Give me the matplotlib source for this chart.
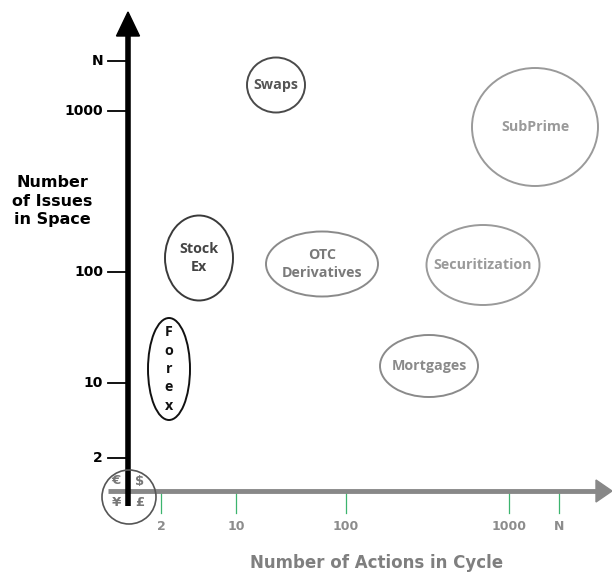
import matplotlib.pyplot as plt
from matplotlib.patches import Ellipse, Circle, FancyArrow

# ordinal ticks of the two axes (diagram units, y grows downwards)
x_labels = ["2", "10", "100", "1000", "N"]
x_pos = [161, 236, 346, 509, 559]
y_labels = ["N", "1000", "100", "10", "2"]
y_pos = [61, 111, 272, 383, 458]

# markets: centre x, centre y, width, height
names = ["Swaps", "SubPrime", "Stock\nEx", "OTC\nDerivatives", "Securitization", "F\no\nr\ne\nx", "Mortgages"]
cx = [276, 535, 199, 322, 483, 169, 429]
cy = [85, 127, 258, 264, 265, 369, 366]
w = [58, 126, 68, 112, 113, 42, 98]
h = [55, 118, 85, 65, 80, 102, 62]
edge = ["#4a4a4a", "#9a9a9a", "#3a3a3a", "#8a8a8a", "#9a9a9a", "#111111", "#8a8a8a"]
txt = ["#555555", "#9a9a9a", "#444444", "#7a7a7a", "#9a9a9a", "#111111", "#8a8a8a"]

fig = plt.figure(figsize=(6.12, 5.72), dpi=100)
ax = fig.add_axes([0, 0, 1, 1])
ax.set_xlim(0, 612)
ax.set_ylim(572, 0)
ax.axis("off")

# horizontal axis (grey)
ax.plot([108, 598], [491, 491], color="#888888", lw=3.5, solid_capstyle="butt", zorder=2)
ax.add_patch(FancyArrow(596, 491, 16, 0, width=0.1, head_width=22, head_length=16,
                        length_includes_head=True, color="#888888", zorder=2))
for x, lab in zip(x_pos, x_labels):
    ax.plot([x, x], [493, 513], color="#3cb46e", lw=0.9, zorder=1)
    ax.text(x, 527, lab, ha="center", va="center", fontsize=9, fontweight="bold",
            color="#8c8c8c", family="DejaVu Sans")

# vertical axis (black)
ax.plot([128, 128], [506, 34], color="black", lw=4, solid_capstyle="butt", zorder=3)
ax.add_patch(FancyArrow(128, 36, 0, -24, width=0.1, head_width=23, head_length=24,
                        length_includes_head=True, color="black", zorder=3))
for y, lab in zip(y_pos, y_labels):
    ax.plot([108, 127], [y, y], color="black", lw=1.3, zorder=3)
    ax.text(103, y, lab, ha="right", va="center", fontsize=10, fontweight="bold",
            color="black", family="DejaVu Sans")

ax.text(52, 201, "Number\nof Issues\nin Space", ha="center", va="center", fontsize=11.5,
        fontweight="bold", color="black", family="DejaVu Sans", linespacing=1.32)
ax.text(377, 563, "Number of Actions in Cycle", ha="center", va="center", fontsize=12,
        fontweight="bold", color="#7f7f7f", family="DejaVu Sans")

# currencies at the origin
ax.add_patch(Circle((129, 497), 27, fill=False, ec="#555555", lw=1.2, zorder=4))
for sx, sy, s in [(116, 481, "€"), (140, 481, "$"), (116, 502, "¥"), (140, 502, "£")]:
    ax.text(sx, sy, s, ha="center", va="center", fontsize=9.5, fontweight="bold",
            color="#777777", family="DejaVu Sans", zorder=5)

for n, x, y, ww, hh, ec, tc in zip(names, cx, cy, w, h, edge, txt):
    ax.add_patch(Ellipse((x, y), ww, hh, fill=False, ec=ec, lw=1.4, zorder=4))
    ls = 1.4 if n.startswith("F") else 1.3
    ax.text(x, y, n, ha="center", va="center", fontsize=10.3, fontweight="bold",
            color=tc, family="Open Sans", linespacing=ls, zorder=5)

fig.savefig("out.png", dpi=100)
